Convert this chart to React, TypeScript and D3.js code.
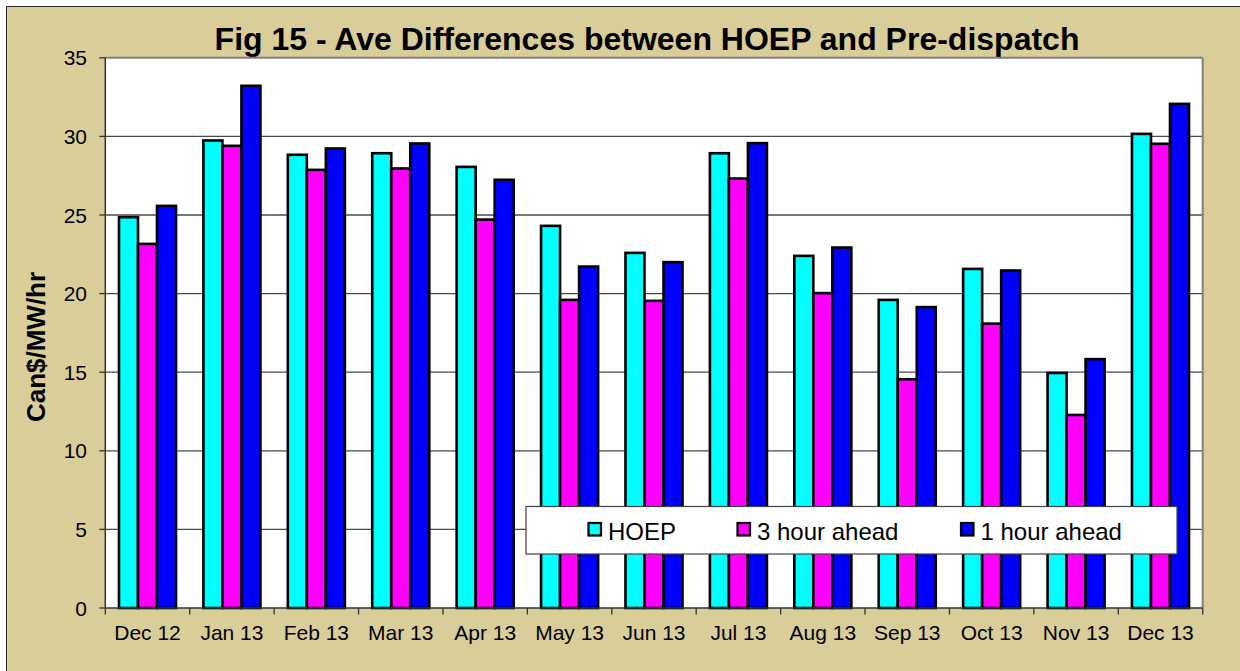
import React from "react";
import * as d3 from "d3";

const categories = ["Dec 12", "Jan 13", "Feb 13", "Mar 13", "Apr 13", "May 13", "Jun 13", "Jul 13", "Aug 13", "Sep 13", "Oct 13", "Nov 13", "Dec 13"];
const seriesNames = ["HOEP", "3 hour ahead", "1 hour ahead"];
const seriesColors = ["#00FFFF", "#FF00FF", "#0000FF"];
const hoep = [24.86, 29.74, 28.83, 28.93, 28.06, 24.31, 22.59, 28.93, 22.4, 19.6, 21.57, 14.95, 30.16];
const threeHour = [23.16, 29.4, 27.87, 27.96, 24.71, 19.6, 19.54, 27.32, 20.03, 14.55, 18.09, 12.28, 29.53];
const oneHour = [25.58, 33.22, 29.23, 29.55, 27.24, 21.72, 22.0, 29.57, 22.93, 19.14, 21.47, 15.83, 32.07];
const yTicks = [0, 5, 10, 15, 20, 25, 30, 35];
const title = "Fig 15 - Ave Differences between HOEP and Pre-dispatch";
const yLabel = "Can$/MW/hr";

const W = 1240;
const H = 671;
const plot = { left: 105.3, right: 1202.7, top: 57.8, bottom: 608 };
const FONT = "'Liberation Sans', Arial, Helvetica, sans-serif";
const legendBox = { x: 526, y: 506.5, w: 651, h: 47.5 };
const legendItemX = [588.5, 737.5, 961];

export default function App() {
  const series = [hoep, threeHour, oneHour];
  const x = d3.scaleBand<string>().domain(categories).range([plot.left, plot.right]).paddingInner(0).paddingOuter(0);
  const inner = d3
    .scaleBand<number>()
    .domain([0, 1, 2])
    .range([0, x.bandwidth()])
    .paddingInner(0)
    .paddingOuter(0.72);
  const y = d3.scaleLinear().domain([0, 35]).range([plot.bottom, plot.top]);
  const boundaries = d3.range(categories.length + 1).map((i) => plot.left + i * x.step());

  return (
    <svg width={W} height={H} style={{ position: "absolute", left: 0, top: 0 }} fontFamily={FONT}>
      <rect x={0} y={0} width={W} height={H} fill="#ffffff" />
      <rect x={6.5} y={6.5} width={W} height={H} fill="#D9CD9A" stroke="#2a2a2a" strokeWidth={1} />
      <text x={647} y={50} textAnchor="middle" fontSize={32} fontWeight="bold" fill="#000">
        {title}
      </text>
      {/* plot area */}
      <rect x={plot.left} y={plot.top} width={plot.right - plot.left} height={plot.bottom - plot.top} fill="#ffffff" />
      {yTicks
        .filter((t) => t > 0 && t < 35)
        .map((t) => (
          <line key={t} x1={plot.left} x2={plot.right} y1={y(t)} y2={y(t)} stroke="#4a4a4a" strokeWidth={1.3} />
        ))}
      <line x1={plot.left} x2={plot.right} y1={plot.top} y2={plot.top} stroke="#808080" strokeWidth={2} />
      <line x1={plot.right} x2={plot.right} y1={plot.top} y2={plot.bottom} stroke="#808080" strokeWidth={2} />
      {/* bars */}
      {categories.map((c, ci) => (
        <g key={c}>
          {series.map((s, si) => (
            <rect
              key={si}
              x={(x(c) as number) + (inner(si) as number)}
              y={y(s[ci])}
              width={inner.bandwidth()}
              height={y(0) - y(s[ci])}
              fill={seriesColors[si]}
              stroke="#000"
              strokeWidth={2.6}
            />
          ))}
        </g>
      ))}
      {/* axes */}
      <line x1={plot.left} x2={plot.left} y1={plot.top} y2={plot.bottom} stroke="#333" strokeWidth={1.5} />
      <line x1={plot.left} x2={plot.right} y1={plot.bottom} y2={plot.bottom} stroke="#333" strokeWidth={1.5} />
      {yTicks.map((t) => (
        <g key={t}>
          <line x1={plot.left - 6} x2={plot.left} y1={y(t)} y2={y(t)} stroke="#333" strokeWidth={1.3} />
          <text x={87} y={y(t) + 7.5} textAnchor="end" fontSize={21} fill="#000">
            {t}
          </text>
        </g>
      ))}
      {boundaries.map((bx, i) => (
        <line key={i} x1={bx} x2={bx} y1={plot.bottom} y2={plot.bottom + 6.5} stroke="#333" strokeWidth={1.3} />
      ))}
      {categories.map((c) => (
        <text key={c} x={(x(c) as number) + x.bandwidth() / 2} y={640} textAnchor="middle" fontSize={21} fill="#000">
          {c}
        </text>
      ))}
      <text
        transform={`translate(45,347) rotate(-90)`}
        textAnchor="middle"
        fontSize={26}
        fontWeight="bold"
        fill="#000"
      >
        {yLabel}
      </text>
      {/* legend */}
      <rect x={legendBox.x} y={legendBox.y} width={legendBox.w} height={legendBox.h} fill="#ffffff" stroke="#404040" strokeWidth={1.2} />
      {seriesNames.map((n, i) => (
        <g key={n}>
          <rect x={legendItemX[i]} y={523} width={12.5} height={12.5} fill={seriesColors[i]} stroke="#000" strokeWidth={2.2} />
          <text x={legendItemX[i] + 19.5} y={539.5} fontSize={24} fill="#000">
            {n}
          </text>
        </g>
      ))}
    </svg>
  );
}
